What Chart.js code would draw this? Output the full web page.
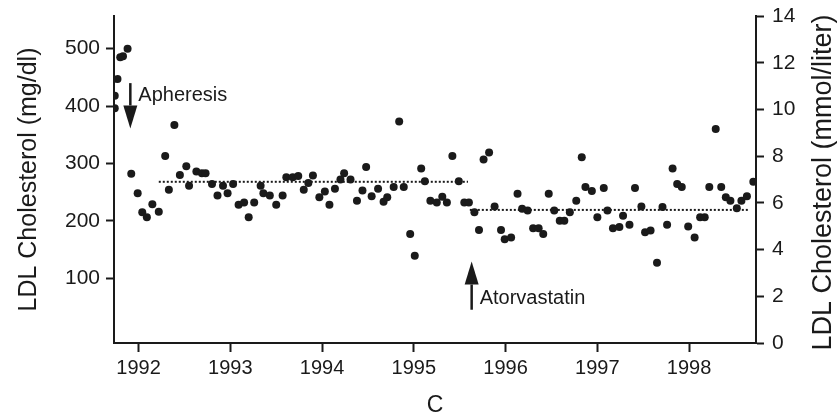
<!DOCTYPE html>
<html>
<head>
<meta charset="utf-8">
<style>
  html, body { margin: 0; padding: 0; background: #fff; }
  #wrap { width: 840px; height: 420px; }
</style>
</head>
<body>
<div id="wrap"><canvas id="ldlChart" width="840" height="420"></canvas></div>
<script src="https://cdn.jsdelivr.net/npm/chart.js@4.4.1/dist/chart.umd.min.js"></script>
<script>
(function () {
    'use strict';

    // Monthly LDL measurements (decimal year, mg/dl)
    var visitYears = [
        1991.74, 1991.74, 1991.77, 1991.80, 1991.83, 1991.88, 1991.92, 1991.99, 1992.04, 1992.09,
        1992.15, 1992.22, 1992.29, 1992.33, 1992.39, 1992.45, 1992.52, 1992.55, 1992.63, 1992.69,
        1992.73, 1992.80, 1992.86, 1992.92, 1992.97, 1993.03, 1993.09, 1993.15, 1993.20, 1993.26,
        1993.33, 1993.36, 1993.43, 1993.50, 1993.57, 1993.61, 1993.68, 1993.74, 1993.80, 1993.85,
        1993.90, 1993.97, 1994.03, 1994.08, 1994.14, 1994.20, 1994.24, 1994.31, 1994.38, 1994.44,
        1994.48, 1994.54, 1994.61, 1994.67, 1994.71, 1994.78, 1994.84, 1994.89, 1994.96, 1995.01,
        1995.08, 1995.12, 1995.18, 1995.25, 1995.31, 1995.36, 1995.42, 1995.49, 1995.55, 1995.60,
        1995.66, 1995.71, 1995.76, 1995.82, 1995.88, 1995.95, 1995.99, 1996.06, 1996.13, 1996.18,
        1996.24, 1996.30, 1996.36, 1996.41, 1996.47, 1996.53, 1996.59, 1996.64, 1996.70, 1996.77,
        1996.83, 1996.87, 1996.94, 1997.00, 1997.07, 1997.11, 1997.17, 1997.24, 1997.28, 1997.35,
        1997.41, 1997.48, 1997.52, 1997.58, 1997.65, 1997.71, 1997.76, 1997.82, 1997.87, 1997.92,
        1997.99, 1998.06, 1998.12, 1998.17, 1998.22, 1998.29, 1998.35, 1998.40, 1998.45, 1998.52,
        1998.57, 1998.63, 1998.70
    ];
    var ldlMgdl = [
        418, 396, 447, 485, 487, 500, 282, 248, 215, 206,
        229, 216, 313, 254, 367, 280, 295, 261, 286, 283,
        283, 264, 244, 261, 248, 264, 228, 232, 206, 232,
        261, 248, 244, 228, 244, 276, 276, 278, 254, 266,
        279, 241, 251, 228, 256, 272, 283, 272, 235, 253,
        294, 243, 256, 233, 241, 259, 373, 259, 177, 139,
        291, 269, 235, 232, 242, 232, 313, 269, 232, 232,
        215, 184, 307, 319, 225, 184, 168, 171, 247, 221,
        218, 187, 187, 177, 247, 218, 200, 200, 215, 235,
        311, 259, 252, 206, 257, 218, 187, 189, 209, 193,
        257, 225, 180, 183, 127, 224, 193, 291, 264, 259,
        190, 171, 206, 206, 259, 360, 259, 241, 235, 222,
        235, 243, 268
    ];

    // Mean level during each treatment period
    var meanStart = [1992.22, 1995.61];
    var meanEnd   = [1995.59, 1998.66];
    var meanValue = [268, 219];

    // Treatment markers
    var markerNames = ['Apheresis', 'Atorvastatin'];
    var markerYears = [1991.91, 1995.63];
    var markerTail  = [440, 45];
    var markerTip   = [361, 129];
    var markerTextY = [419, 65];

    var YEAR_TICKS  = [1992, 1993, 1994, 1995, 1996, 1997, 1998];
    var MGDL_TICKS  = [100, 200, 300, 400, 500];
    var MMOL_TICKS  = [0, 2, 4, 6, 8, 10, 12, 14];

    var INK = '#1a1a1a';
    var FONT = "'Liberation Sans', Arial, sans-serif";

    Chart.defaults.font.family = FONT;
    Chart.defaults.color = INK;

    var points = visitYears.map(function (x, i) { return { x: x, y: ldlMgdl[i] }; });

    var meanSets = meanValue.map(function (v, i) {
        return {
            type: 'line',
            data: [{ x: meanStart[i], y: v }, { x: meanEnd[i], y: v }],
            borderColor: INK,
            borderWidth: 2,
            borderDash: [2, 2],
            pointRadius: 0,
            fill: false
        };
    });

    function axisGrid(len) {
        return {
            drawOnChartArea: false,
            drawTicks: true,
            tickLength: len,
            tickWidth: 2,
            tickColor: INK
        };
    }
    var axisBorder = { display: true, color: INK, width: 2 };

    // pin the axis boxes so the plot area stays put regardless of label sizes
    function pinWidth(w) {
        return function (s) {
            s.width = w;
            s.paddingTop = 0;
            s.paddingBottom = 0;
        };
    }
    function pinHeight(h) {
        return function (s) {
            s.height = h;
            s.paddingLeft = 0;
            s.paddingRight = 0;
        };
    }

    var markers = {
        id: 'markers',
        afterDatasetsDraw: function (chart) {
            var ctx = chart.ctx;
            var xs = chart.scales.x, ys = chart.scales.y;
            ctx.save();
            ctx.fillStyle = INK;
            ctx.strokeStyle = INK;
            ctx.lineWidth = 2.5;
            markerYears.forEach(function (yr, i) {
                var px = xs.getPixelForValue(yr);
                var tail = ys.getPixelForValue(markerTail[i]);
                var tip = ys.getPixelForValue(markerTip[i]);
                var dir = tip > tail ? 1 : -1;
                var head = 23, half = 7;
                ctx.beginPath();
                ctx.moveTo(px, tail);
                ctx.lineTo(px, tip - dir * head);
                ctx.stroke();
                ctx.beginPath();
                ctx.moveTo(px - half, tip - dir * head);
                ctx.lineTo(px + half, tip - dir * head);
                ctx.lineTo(px, tip);
                ctx.closePath();
                ctx.fill();

                ctx.font = '20px ' + FONT;
                ctx.textAlign = 'left';
                ctx.textBaseline = 'middle';
                ctx.fillText(markerNames[i], px + 8, ys.getPixelForValue(markerTextY[i]));
            });

            // right-hand axis title, reading bottom to top like the left one
            var area = chart.chartArea;
            ctx.translate(824, (area.top + area.bottom) / 2 + 3);
            ctx.rotate(-Math.PI / 2);
            ctx.font = '27px ' + FONT;
            ctx.textAlign = 'center';
            ctx.textBaseline = 'middle';
            ctx.fillText('LDL Cholesterol (mmol/liter)', 0, 0);
            ctx.restore();
        }
    };

    new Chart(document.getElementById('ldlChart'), {
        type: 'scatter',
        data: {
            datasets: [{
                data: points,
                backgroundColor: INK,
                borderWidth: 0,
                pointRadius: 4,
                pointHoverRadius: 4
            }].concat(meanSets)
        },
        options: {
            responsive: false,
            animation: false,
            events: [],
            layout: { padding: { top: 16, left: 0, right: 0, bottom: 0 } },
            plugins: { legend: { display: false }, tooltip: { enabled: false } },
            scales: {
                x: {
                    type: 'linear',
                    min: 1991.732,
                    max: 1998.729,
                    afterBuildTicks: function (s) {
                        s.ticks = YEAR_TICKS.map(function (v) { return { value: v }; });
                    },
                    afterFit: pinHeight(77),
                    ticks: {
                        font: { size: 20 },
                        padding: 4,
                        maxRotation: 0,
                        autoSkip: false,
                        callback: function (v) { return String(v); }
                    },
                    grid: axisGrid(9),
                    border: axisBorder,
                    title: { display: true, text: 'C', font: { size: 23 }, padding: 1 }
                },
                y: {
                    position: 'left',
                    min: -13,
                    max: 557,
                    afterBuildTicks: function (s) {
                        s.ticks = MGDL_TICKS.map(function (v) { return { value: v }; });
                    },
                    afterFit: pinWidth(114),
                    ticks: { font: { size: 21 }, padding: 6 },
                    grid: axisGrid(8),
                    border: axisBorder,
                    title: {
                        display: true,
                        text: 'LDL Cholesterol (mg/dl)',
                        font: { size: 25 },
                        padding: 14
                    }
                },
                y2: {
                    position: 'right',
                    min: 0,
                    max: 14,
                    afterBuildTicks: function (s) {
                        s.ticks = MMOL_TICKS.map(function (v) { return { value: v }; });
                    },
                    afterFit: pinWidth(84),
                    ticks: { font: { size: 21 }, padding: 8 },
                    grid: axisGrid(8),
                    border: axisBorder
                }
            }
        },
        plugins: [markers]
    });
})();
</script>
</body>
</html>
